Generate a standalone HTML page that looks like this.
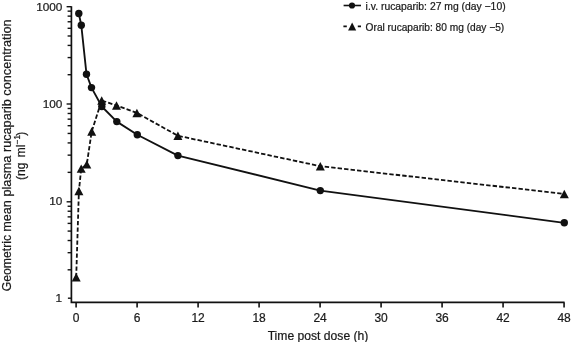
<!DOCTYPE html>
<html><head><meta charset="utf-8"><title>chart</title>
<style>html,body{margin:0;padding:0;background:#fff;overflow:hidden;}svg{display:block;}text{font-family:"Liberation Sans",sans-serif;fill:#1a1a1a;stroke:#1a1a1a;stroke-width:0.22px;}</style>
</head><body>
<svg style="will-change:transform;filter:grayscale(1)" width="571" height="342" viewBox="0 0 571 342">
<rect width="571" height="342" fill="#ffffff"/>
<g stroke="#111" stroke-width="1.7" fill="none" stroke-linecap="butt">
<path d="M71.4 6.2 V302.4 H564.6"/>
</g>
<g stroke="#111" stroke-width="1.4" fill="none">
<path d="M67.9 298.20 H71.4"/>
<path d="M67.6 269.81 H71.4"/>
<path d="M67.6 252.68 H71.4"/>
<path d="M67.6 240.52 H71.4"/>
<path d="M67.6 231.09 H71.4"/>
<path d="M67.6 223.39 H71.4"/>
<path d="M67.6 216.87 H71.4"/>
<path d="M67.6 211.23 H71.4"/>
<path d="M67.6 206.25 H71.4"/>
<path d="M66.6 201.80 H71.4"/>
<path d="M67.6 172.36 H71.4"/>
<path d="M67.6 155.14 H71.4"/>
<path d="M67.6 142.92 H71.4"/>
<path d="M67.6 133.44 H71.4"/>
<path d="M67.6 125.70 H71.4"/>
<path d="M67.6 119.15 H71.4"/>
<path d="M67.6 113.48 H71.4"/>
<path d="M67.6 108.48 H71.4"/>
<path d="M66.6 104.00 H71.4"/>
<path d="M67.6 74.71 H71.4"/>
<path d="M67.6 57.58 H71.4"/>
<path d="M67.6 45.42 H71.4"/>
<path d="M67.6 35.99 H71.4"/>
<path d="M67.6 28.29 H71.4"/>
<path d="M67.6 21.77 H71.4"/>
<path d="M67.6 16.13 H71.4"/>
<path d="M67.6 11.15 H71.4"/>
<path d="M66.6 6.70 H71.4"/>
</g>
<g stroke="#111" stroke-width="1.6" fill="none">
<path d="M76.10 302.4 V307.6"/>
<path d="M137.10 302.4 V307.6"/>
<path d="M198.09 302.4 V307.6"/>
<path d="M259.09 302.4 V307.6"/>
<path d="M320.08 302.4 V307.6"/>
<path d="M381.08 302.4 V307.6"/>
<path d="M442.08 302.4 V307.6"/>
<path d="M503.07 302.4 V307.6"/>
<path d="M564.07 302.4 V307.6"/>
</g>
<g font-size="11.8">
<text x="62.4" y="10.85" text-anchor="end">1000</text>
<text x="62.4" y="108.02" text-anchor="end">100</text>
<text x="62.4" y="205.19" text-anchor="end">10</text>
<text x="62.1" y="302.36" text-anchor="end">1</text>
<text x="76.10" y="322.1" font-size="12" text-anchor="middle">0</text>
<text x="137.10" y="322.1" font-size="12" text-anchor="middle">6</text>
<text x="198.09" y="322.1" font-size="12" text-anchor="middle">12</text>
<text x="259.09" y="322.1" font-size="12" text-anchor="middle">18</text>
<text x="320.08" y="322.1" font-size="12" text-anchor="middle">24</text>
<text x="381.08" y="322.1" font-size="12" text-anchor="middle">30</text>
<text x="442.08" y="322.1" font-size="12" text-anchor="middle">36</text>
<text x="503.07" y="322.1" font-size="12" text-anchor="middle">42</text>
<text x="564.07" y="322.1" font-size="12" text-anchor="middle">48</text>
</g>
<text x="318.0" y="339.6" font-size="12" text-anchor="middle" textLength="100.7" lengthAdjust="spacingAndGlyphs">Time post dose (h)</text>
<text transform="translate(10.6 291.18) rotate(-90)" font-size="12" textLength="56.2" lengthAdjust="spacingAndGlyphs">Geometric</text>
<text transform="translate(10.6 19.43) rotate(-90)" font-size="12" text-anchor="end" textLength="212.4" lengthAdjust="spacingAndGlyphs">mean plasma rucaparib concentration</text>
<text transform="translate(24.7 180.0) rotate(-90)" font-size="12">(ng</text>
<text transform="translate(24.7 157.3) rotate(-90)" font-size="12">ml</text>
<text transform="translate(20.0 144.2) rotate(-90)" font-size="8.2">&#8722;1</text>
<text transform="translate(24.7 135.7) rotate(-90)" font-size="12">)</text>
<polyline fill="none" stroke="#111" stroke-width="1.85" stroke-linejoin="round" points="78.8,13.5 81.3,25.3 86.5,74.2 91.5,87.6 101.8,106.5 116.8,121.6 137.3,134.7 177.9,155.6 320.3,190.6 564.3,222.8"/>
<polyline fill="none" stroke="#111" stroke-width="1.8" stroke-dasharray="4.4 2.1" stroke-linejoin="round" points="76.2,277.30 78.9,191.05 81.2,168.60 86.8,164.35 91.7,131.45 101.7,100.50 116.5,105.50 136.9,112.90 177.9,135.75 320.3,166.20 564.3,193.90"/>
<circle cx="78.8" cy="13.5" r="3.7" fill="#111"/>
<circle cx="81.3" cy="25.3" r="3.7" fill="#111"/>
<circle cx="86.5" cy="74.2" r="3.7" fill="#111"/>
<circle cx="91.5" cy="87.6" r="3.7" fill="#111"/>
<circle cx="101.8" cy="106.5" r="3.7" fill="#111"/>
<circle cx="116.8" cy="121.6" r="3.7" fill="#111"/>
<circle cx="137.3" cy="134.7" r="3.7" fill="#111"/>
<circle cx="177.9" cy="155.6" r="3.7" fill="#111"/>
<circle cx="320.3" cy="190.6" r="3.7" fill="#111"/>
<circle cx="564.3" cy="222.8" r="3.7" fill="#111"/>
<path d="M76.2 273.10 L80.7 281.55 H71.7 Z" fill="#111"/>
<path d="M78.9 186.85 L83.4 195.30 H74.4 Z" fill="#111"/>
<path d="M81.2 164.40 L85.7 172.85 H76.7 Z" fill="#111"/>
<path d="M86.8 160.15 L91.3 168.60 H82.3 Z" fill="#111"/>
<path d="M91.7 127.25 L96.2 135.70 H87.2 Z" fill="#111"/>
<path d="M101.7 96.30 L106.2 104.75 H97.2 Z" fill="#111"/>
<path d="M116.5 101.30 L121.0 109.75 H112.0 Z" fill="#111"/>
<path d="M136.9 108.70 L141.4 117.15 H132.4 Z" fill="#111"/>
<path d="M177.9 131.55 L182.4 140.00 H173.4 Z" fill="#111"/>
<path d="M320.3 162.00 L324.8 170.45 H315.8 Z" fill="#111"/>
<path d="M564.3 189.70 L568.8 198.15 H559.8 Z" fill="#111"/>
<path d="M343.6 5.5 H361" stroke="#111" stroke-width="1.6"/>
<circle cx="352.0" cy="5.5" r="3.1" fill="#111"/>
<path d="M343.4 26.3 H346.8 M357.8 26.3 H361" stroke="#111" stroke-width="1.7"/>
<path d="M352.15 22.5 L356.2 30.6 H348.1 Z" fill="#111"/>
<text x="365.6" y="9.6" font-size="10.3" stroke-width="0.15" textLength="140" lengthAdjust="spacingAndGlyphs">i.v. rucaparib: 27 mg (day &#8722;10)</text>
<text x="365.6" y="30.7" font-size="10.3" stroke-width="0.15" textLength="138.6" lengthAdjust="spacingAndGlyphs">Oral rucaparib: 80 mg (day &#8722;5)</text>
</svg>
</body></html>
